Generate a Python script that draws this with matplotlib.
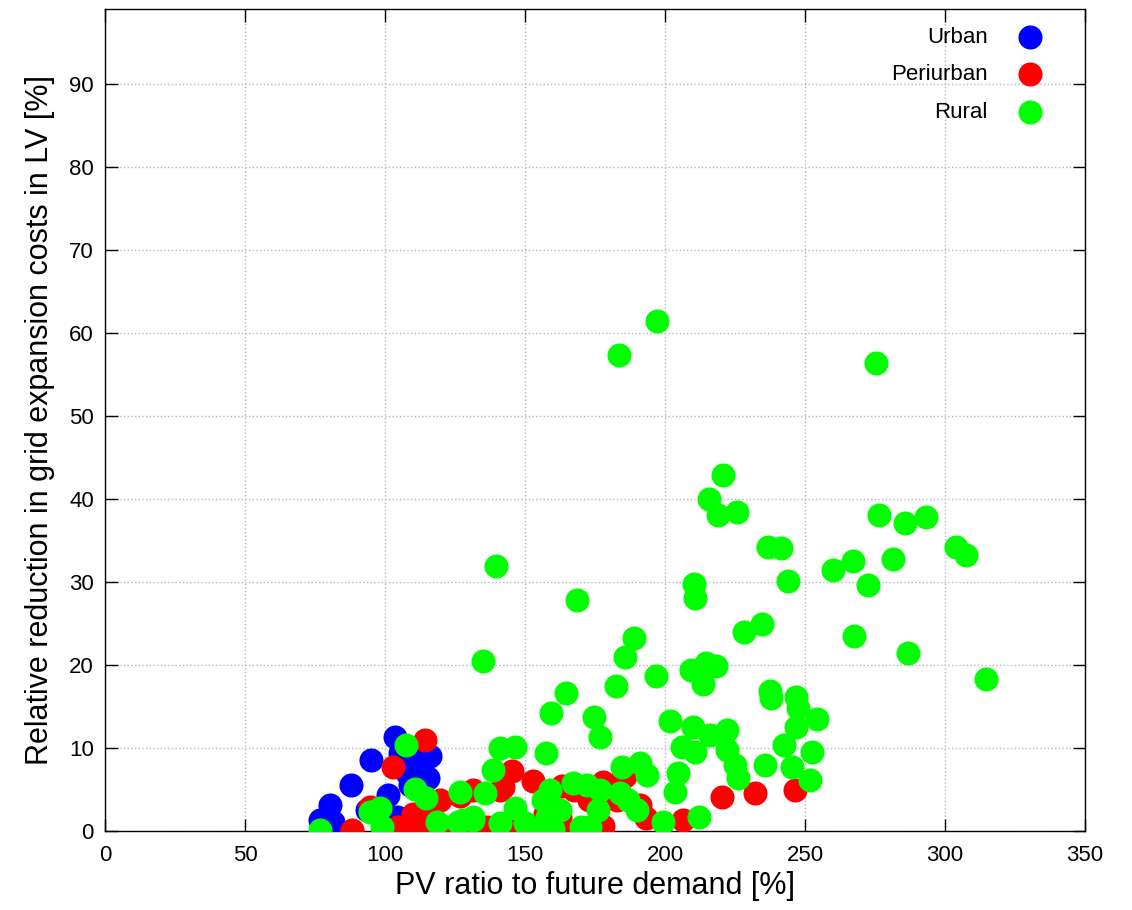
import matplotlib.pyplot as plt

plt.rcParams['font.family'] = ['Liberation Sans', 'DejaVu Sans']

# PV ratio [%], reduction [%]
urban_x = [103.6, 94.9, 87.8, 80.4, 76.8, 81.4, 116.1, 115.4, 107.7, 101.1,
           104.2, 93.5, 105.4, 111.0, 109.0]
urban_y = [11.3, 8.5, 5.6, 3.1, 1.3, 1.1, 9.0, 6.4, 7.0, 4.3,
           1.7, 2.5, 9.4, 8.6, 5.5]

periurban_x = [114.3, 103.0, 88.3, 94.6, 104.2, 110.1, 109.3, 114.3, 121.4, 127.5,
               133.9, 141.0, 148.2, 153.6, 162.5, 170.7, 177.9, 119.6, 126.8, 145.4,
               152.9, 141.1, 163.2, 167.5, 177.9, 185.7, 172.9, 191.1, 193.2, 206.4,
               220.2, 232.1, 246.4, 131.5, 142.3, 136.4, 127.9, 149.3, 182.9, 162.5,
               185.0, 116.0, 157.0]
periurban_y = [11.0, 7.7, 0.1, 2.9, 0.5, 2.1, 0.1, 0.6, 0.1, 0.4,
               0.4, 0.1, 0.6, 0.1, 0.1, 0.4, 0.6, 3.7, 4.2, 7.2,
               6.0, 4.9, 5.4, 4.9, 5.9, 6.6, 3.7, 3.1, 1.6, 1.3,
               4.1, 4.6, 4.9, 4.9, 5.3, 0.5, 0.5, 1.0, 3.7, 1.7,
               6.5, 1.5, 2.0]

rural_x = [197.1, 183.6, 275.4, 220.7, 215.7, 218.9, 225.7, 276.4, 285.7, 293.2,
           236.8, 241.4, 303.9, 307.5, 281.4, 243.9, 267.1, 260.0, 272.5, 210.4,
           210.7, 139.6, 168.6, 234.6, 228.2, 188.9, 267.5, 286.8, 185.7, 135.0,
           214.6, 218.2, 209.3, 196.8, 314.6, 213.6, 182.5, 237.5, 237.9, 164.6,
           246.8, 247.5, 159.3, 174.6, 201.8, 254.3, 210.0, 246.8, 216.1, 176.8,
           222.0, 242.5, 222.0, 206.0, 107.5, 141.1, 146.4, 157.5, 252.4, 225.0,
           235.7, 184.5, 138.6, 204.8, 191.0, 245.2, 226.0, 251.8, 193.5, 203.6,
           186.8, 199.3, 212.1, 135.7, 126.8, 131.5, 127.9, 141.0, 146.4, 150.0,
           158.9, 156.4, 157.7, 162.5, 172.0, 167.2, 176.0, 176.8, 173.2, 183.9,
           189.9, 76.8, 94.6, 98.2, 99.0, 110.7, 114.6, 118.6, 126.1, 131.5,
           210.7, 155.0, 160.0, 170.0]
rural_y = [61.4, 57.3, 56.4, 42.9, 40.0, 38.1, 38.4, 38.1, 37.1, 37.8,
           34.2, 34.1, 34.2, 33.3, 32.8, 30.1, 32.5, 31.4, 29.6, 29.8,
           28.1, 31.9, 27.8, 24.9, 24.0, 23.3, 23.5, 21.4, 21.0, 20.5,
           20.2, 19.9, 19.4, 18.7, 18.3, 17.7, 17.5, 16.9, 16.0, 16.6,
           16.1, 14.8, 14.2, 13.7, 13.3, 13.5, 12.5, 12.5, 11.6, 11.3,
           12.2, 10.4, 9.7, 10.1, 10.4, 10.0, 10.1, 9.4, 9.5, 8.0,
           8.0, 7.7, 7.3, 7.0, 8.2, 7.7, 6.4, 6.1, 6.7, 4.7,
           3.7, 1.1, 1.7, 4.6, 4.7, 1.7, 1.3, 1.0, 2.8, 1.0,
           4.9, 3.7, 1.7, 2.5, 5.5, 5.8, 2.5, 4.9, 0.5, 4.6,
           2.5, 0.1, 2.3, 2.8, 0.5, 5.1, 4.0, 1.1, 1.1, 1.3,
           9.5, 0.3, 0.2, 0.5]

fig = plt.figure(figsize=(11.32, 9.10), dpi=100)
ax = fig.add_axes([0.0928, 0.0868, 0.8657, 0.9032])

ms = 300
ax.scatter(urban_x, urban_y, s=ms, color='#0000ff', linewidths=0, label='Urban', zorder=3)
ax.scatter(periurban_x, periurban_y, s=ms, color='#ff0000', linewidths=0, label='Periurban', zorder=3)
ax.scatter(rural_x, rural_y, s=ms, color='#00ff00', linewidths=0, label='Rural', zorder=3)

ax.set_xlim(0, 350)
ax.set_ylim(0, 99)
ax.set_xticks(range(0, 351, 50))
ax.set_yticks(range(0, 91, 10))
ax.grid(True, linestyle=':', color='#b8b8b8', linewidth=1)
ax.tick_params(direction='in', length=9, width=1, top=True, right=True, labelsize=16)
ax.tick_params(axis='x', pad=10)
ax.tick_params(axis='y', pad=8)
for sp in ax.spines.values():
    sp.set_linewidth(1.0)

ax.set_xlabel('PV ratio to future demand [%]', fontsize=22, labelpad=4)
ax.set_ylabel('Relative reduction in grid expansion costs in LV [%]', fontsize=22, labelpad=10)

leg = ax.legend(loc='upper right', bbox_to_anchor=(0.9755, 0.9895), borderaxespad=0,
                markerfirst=False, frameon=False, fontsize=16,
                handletextpad=0.9, labelspacing=0.75, scatterpoints=1)

fig.savefig('out.png', dpi=100)
